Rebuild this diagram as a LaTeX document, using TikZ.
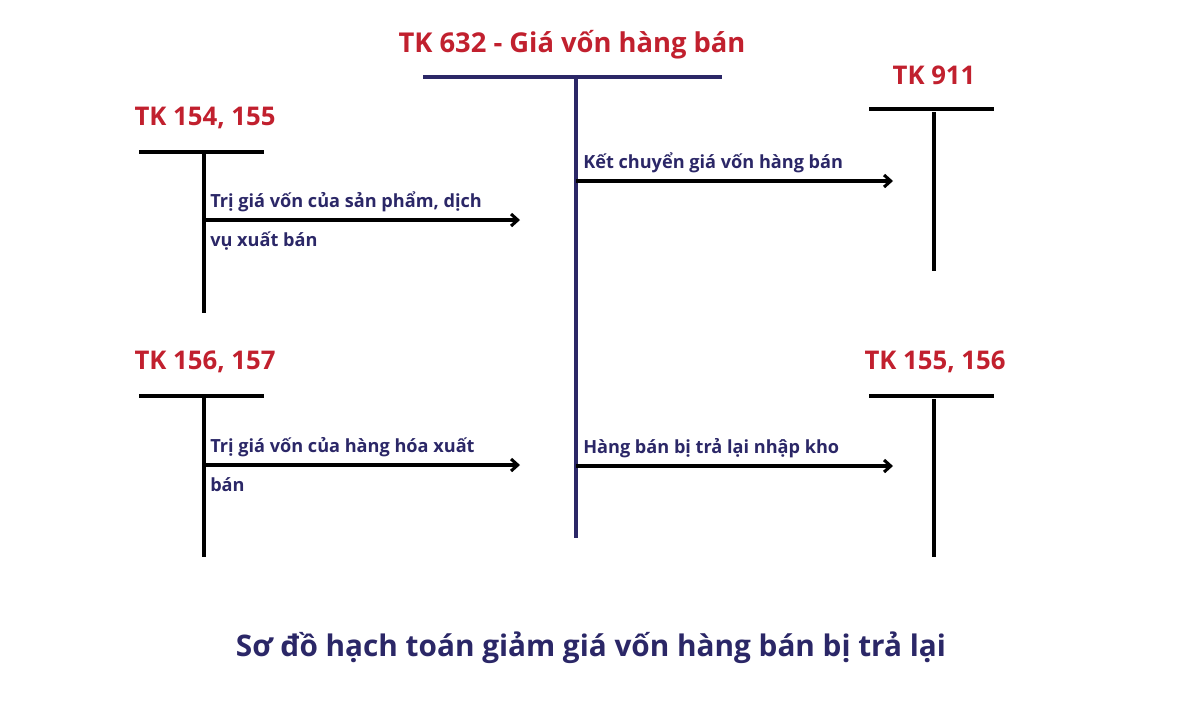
\documentclass[tikz,border=0pt]{standalone}
\usepackage{fontspec}
\setmainfont{Open Sans}
\usetikzlibrary{arrows.meta}
\definecolor{tkred}{HTML}{C1202E}
\definecolor{navy}{HTML}{2B2767}
\begin{document}
\begin{tikzpicture}[x=0.75pt,y=-0.75pt,
  acct/.style={font=\bfseries\fontsize{19.3}{22}\selectfont, text=tkred, inner sep=0pt},
  lbl/.style={font=\bfseries\fontsize{13.6}{29}\selectfont, text=navy, inner sep=0pt, anchor=base west, align=left},
  tline/.style={line width=2.3pt, black},
  mainline/.style={line width=2.3pt, navy},
  flow/.style={line width=2.3pt, black, -{Straight Barb[length=5pt,width=9pt,line width=2.3pt]}},
  caption/.style={font=\bfseries\fontsize{22.3}{26}\selectfont, text=navy, inner sep=0pt}]
\useasboundingbox (0,0) rectangle (1200,704);
% main account
\node[acct, font=\bfseries\fontsize{20.5}{24}\selectfont] (t632) at (572,45) {TK 632 - Giá vốn hàng bán};
\coordinate (m1) at (423,77); \coordinate (m2) at (722,77);
\coordinate (mtop) at (576,77); \coordinate (mbot) at (576,538);
\draw[mainline] (m1) -- (m2);
\draw[mainline] (mtop) -- (mbot);
% TK 154,155
\node[acct] (t154) at (205,118) {TK 154, 155};
\coordinate (a1) at (139,152); \coordinate (a2) at (264,152);
\coordinate (atop) at (204,152); \coordinate (abot) at (204,313);
\draw[tline] (a1) -- (a2); \draw[tline] (atop) -- (abot);
% TK 911
\node[acct] (t911) at (934,75) {TK 911};
\coordinate (b1) at (869,109); \coordinate (b2) at (994,109);
\coordinate (btop) at (934,112); \coordinate (bbot) at (934,271);
\draw[tline] (b1) -- (b2); \draw[tline] (btop) -- (bbot);
% TK 156,157
\node[acct] (t156) at (205,362) {TK 156, 157};
\coordinate (c1) at (139,396); \coordinate (c2) at (264,396);
\coordinate (ctop) at (204,396); \coordinate (cbot) at (204,557);
\draw[tline] (c1) -- (c2); \draw[tline] (ctop) -- (cbot);
% TK 155,156
\node[acct] (t155) at (935,362) {TK 155, 156};
\coordinate (d1) at (869,396); \coordinate (d2) at (994,396);
\coordinate (dtop) at (934,399); \coordinate (dbot) at (934,557);
\draw[tline] (d1) -- (d2); \draw[tline] (dtop) -- (dbot);
% flows
\coordinate (f1s) at (204,220); \coordinate (f1e) at (520,220);
\draw[flow] (f1s) -- (f1e);
\node[lbl] (l1) at (210,246) {Trị giá vốn của sản phẩm, dịch\\vụ xuất bán};
\coordinate (f2s) at (576,181); \coordinate (f2e) at (893,181);
\draw[flow] (f2s) -- (f2e);
\node[lbl] (l2) at (583,168) {Kết chuyển giá vốn hàng bán};
\coordinate (f3s) at (204,465); \coordinate (f3e) at (520,465);
\draw[flow] (f3s) -- (f3e);
\node[lbl] (l3) at (210,491) {Trị giá vốn của hàng hóa xuất\\bán};
\coordinate (f4s) at (576,466); \coordinate (f4e) at (893,466);
\draw[flow] (f4s) -- (f4e);
\node[lbl] (l4) at (583,453) {Hàng bán bị trả lại nhập kho};
% caption
\node[caption] (cap) at (591,648) {Sơ đồ hạch toán giảm giá vốn hàng bán bị trả lại};
\end{tikzpicture}
\end{document}
